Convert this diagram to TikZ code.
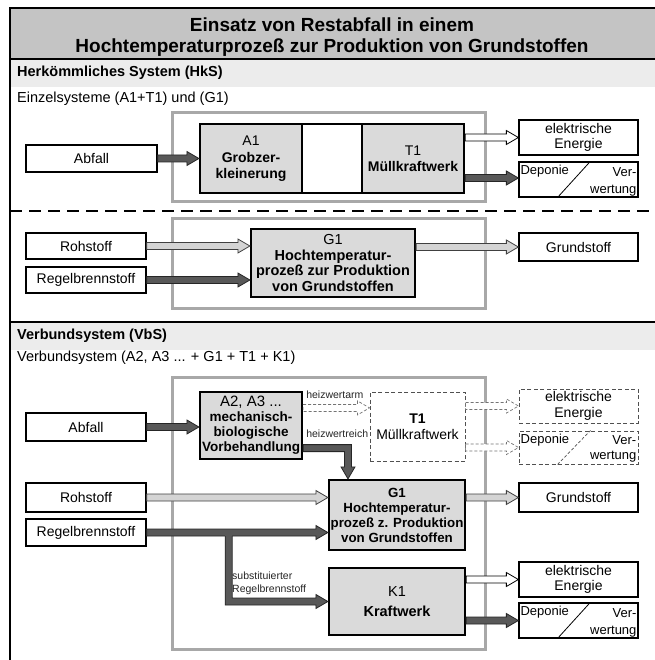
\documentclass[tikz,border=0pt]{standalone}
\usepackage{fontspec}
\setmainfont{Liberation Sans}
\usetikzlibrary{calc}
\definecolor{titlegray}{HTML}{C4C4C4}
\definecolor{bandgray}{HTML}{ECECEC}
\definecolor{procgray}{HTML}{DADADA}
\definecolor{framegray}{HTML}{A8A8A8}
\definecolor{arrdark}{HTML}{585858}
\definecolor{arrlight}{HTML}{D4D4D4}
\definecolor{dashgray}{HTML}{505050}
\newcommand\myfs[2]{\fontsize{#1pt}{#2pt}\selectfont}
% horizontal fat arrow: #1 style, #2 start, #3 end (y taken from start)
\newcommand\fatarr[3]{%
  \draw[#1] let \p1=#2, \p2=#3 in
    (\x1,\y1+3.5pt) -- (\x2-12pt,\y1+3.5pt) -- (\x2-12pt,\y1+7pt) -- (\x2,\y1)
    -- (\x2-12pt,\y1-7pt) -- (\x2-12pt,\y1-3.5pt) -- (\x1,\y1-3.5pt) -- cycle;}
\begin{document}
\begin{tikzpicture}[x=1pt,y=-1pt, line join=miter,
  inbox/.style={draw, line width=1.3pt, fill=white, inner sep=0pt, align=center, font=\myfs{14}{15.5}},
  proc/.style={draw, line width=2.2pt, fill=procgray, inner sep=0pt, align=center, font=\myfs{14}{16}},
  dbox/.style={draw=dashgray, dash pattern=on 4pt off 2.5pt, line width=1pt, fill=white, inner sep=0pt, align=center, font=\myfs{14}{15.5}},
  grframe/.style={draw=framegray, line width=3pt},
  dkarr/.style={fill=arrdark, draw=black!85, line width=0.8pt},
  wharr/.style={fill=white, draw=black, line width=0.8pt},
  ltarr/.style={fill=arrlight, draw=black!75, line width=0.8pt},
  dsarr/.style={fill=white, draw=dashgray!80, dash pattern=on 3pt off 2pt, line width=0.7pt},
  small/.style={font=\myfs{10.5}{12.5}, inner sep=0pt, align=left, text=black!85},
  depotxt/.style={font=\myfs{13}{14}, inner sep=0pt}]
\useasboundingbox (0,0) rectangle (654,660);
\fill[white] (0,0) rectangle (654,660);
% bands
\fill[titlegray] (10,8) rectangle (662,59);
\fill[bandgray] (10,59) rectangle (662,87);
\fill[bandgray] (10,322) rectangle (662,350);
\draw[line width=2pt] (662,8) -- (10,8) -- (10,665);
\draw[line width=2pt] (10,59) -- (662,59);
\draw[line width=2pt] (10,322) -- (662,322);
\draw[line width=2pt, dash pattern=on 12pt off 7pt] (10,211) -- (662,211);
% texts
\node[font=\bfseries\myfs{19}{20.5}, align=center, inner sep=0pt] (title) at (332,37)
  {Einsatz von Restabfall in einem\\Hochtemperaturprozeß zur Produktion von Grundstoffen};
\node[anchor=west, font=\bfseries\myfs{14.5}{16}, inner sep=0pt] (hks) at (17,73) {Herkömmliches System (HkS)};
\node[anchor=west, font=\myfs{14.5}{16}, inner sep=0pt] (ez) at (17,99) {Einzelsysteme (A1+T1) und (G1)};
\node[anchor=west, font=\bfseries\myfs{14.5}{16}, inner sep=0pt] (vbs) at (17,336) {Verbundsystem (VbS)};
\node[anchor=west, font=\myfs{14.5}{16}, inner sep=0pt] (vz) at (17,358) {Verbundsystem (A2, A3 ... + G1 + T1 + K1)};

% ---------- Row 1 ----------
\draw[grframe] (172,113) rectangle (485,202);
\node[proc, minimum width=102pt, minimum height=69pt] (a1) at (251,158.5)
  {A1\\[1pt]\textbf{Grobzer-}\\\textbf{kleinerung}};
\node[proc, fill=white, minimum width=60pt, minimum height=69pt] (mid) at (332,158.5) {};
\node[proc, minimum width=102pt, minimum height=69pt] (t1) at (413,158.5)
  {T1\\\textbf{Müllkraftwerk}};
\node[inbox, minimum width=131pt, minimum height=27pt] (abf1) at (91.5,158.5) {Abfall};
\node[inbox, minimum width=119pt, minimum height=35pt] (e1) at (578.5,137.5) {elektrische\\Energie};
\node[inbox, minimum width=119pt, minimum height=35pt] (d1) at (578.5,179.5) {};
\draw[line width=0.8pt] ($(d1.south west)+(39,0)$) -- ($(d1.north west)+(72,0)$);
\node[depotxt, anchor=west] (d1a) at ($(d1.north west)+(2,10)$) {Deponie};
\node[depotxt, anchor=east] (d1b) at ($(d1.north east)+(-2,11)$) {Ver-};
\node[depotxt, anchor=east] (d1c) at ($(d1.south east)+(-2,-7.5)$) {wertung};
\fatarr{dkarr}{(abf1.east)}{(a1.west)}
\fatarr{wharr}{(t1.east |- e1.west)}{(e1.west)}
\fatarr{dkarr}{($(t1.east |- d1.west)+(0,-1.5)$)}{(d1.west)}

% ---------- Row 2 ----------
\draw[grframe] (172,218) rectangle (485,308);
\node[proc, minimum width=164pt, minimum height=68pt, font=\myfs{14.5}{15.7}] (g1) at (333,263)
  {G1\\\textbf{Hochtemperatur-}\\\textbf{prozeß zur Produktion}\\\textbf{von Grundstoffen}};
\node[inbox, minimum width=120pt, minimum height=26pt] (roh1) at (86,246) {Rohstoff};
\node[inbox, minimum width=120pt, minimum height=26pt] (reg1) at (86,280) {Regelbrennstoff};
\node[inbox, minimum width=119pt, minimum height=28pt] (gs1) at (578.5,247) {Grundstoff};
\fatarr{ltarr}{(roh1.east)}{(g1.west)}
\fatarr{dkarr}{(reg1.east)}{(g1.west)}
\fatarr{ltarr}{(g1.east |- gs1.west)}{(gs1.west)}

% ---------- VbS ----------
\draw[grframe] (172,377) rectangle (485,649);
\node[proc, minimum width=102pt, minimum height=67pt, font=\myfs{13.5}{15}] (a2) at (251,425.5)
  {{\myfs{15}{16}A2, A3 ...}\\\textbf{mechanisch-}\\\textbf{biologische}\\\textbf{Vorbehandlung}};
\node[inbox, minimum width=120pt, minimum height=28pt] (abf2) at (86,427) {Abfall};
\node[dbox, minimum width=95pt, minimum height=69pt] (t1d) at (417.5,426.5)
  {\textbf{T1}\\[1pt]Müllkraftwerk};
\node[dbox, minimum width=119pt, minimum height=34pt] (e2) at (578.5,406) {elektrische\\Energie};
\node[dbox, minimum width=119pt, minimum height=33pt] (d2) at (578.5,447.5) {};
\draw[draw=dashgray, dash pattern=on 3pt off 2pt, line width=0.7pt] ($(d2.south west)+(39,0)$) -- ($(d2.north west)+(72,0)$);
\node[depotxt, anchor=west] (d2a) at ($(d2.north west)+(2,9.5)$) {Deponie};
\node[depotxt, anchor=east] (d2b) at ($(d2.north east)+(-2,10)$) {Ver-};
\node[depotxt, anchor=east] (d2c) at ($(d2.south east)+(-2,-7.5)$) {wertung};

\node[proc, minimum width=136pt, minimum height=70pt, font=\myfs{13.3}{15}] (g2) at (397,515)
  {\textbf{G1}\\\textbf{Hochtemperatur-}\\\textbf{prozeß z. Produktion}\\\textbf{von Grundstoffen}};
\node[inbox, minimum width=120pt, minimum height=29pt] (roh2) at (86,497.5) {Rohstoff};
\node[inbox, minimum width=119pt, minimum height=29pt] (gs2) at (578.5,497.5) {Grundstoff};
\node[inbox, minimum width=120pt, minimum height=27pt] (reg2) at (86,532.5) {Regelbrennstoff};
\node[proc, minimum width=136pt, minimum height=67pt, font=\myfs{14.5}{20}] (k1) at (397,601.5)
  {K1\\\textbf{Kraftwerk}};
\node[inbox, minimum width=119pt, minimum height=35pt] (e3) at (578.5,579.5) {elektrische\\Energie};
\node[inbox, minimum width=119pt, minimum height=35pt] (d3) at (578.5,620.5) {};
\draw[line width=0.8pt] ($(d3.south west)+(39,0)$) -- ($(d3.north west)+(72,0)$);
\node[depotxt, anchor=west] (d3a) at ($(d3.north west)+(2,10)$) {Deponie};
\node[depotxt, anchor=east] (d3b) at ($(d3.north east)+(-2,11)$) {Ver-};
\node[depotxt, anchor=east] (d3c) at ($(d3.south east)+(-2,-7.5)$) {wertung};

% labels
\node[small, anchor=west] (lha) at ($(a2.north east)+(3,4)$) {heizwertarm};
\node[small, anchor=west] (lhr) at ($(a2.north east)+(3,43)$) {heizwertreich};
\node[small, anchor=north west] (lsr) at (232,572) {substituierter\\Regelbrennstoff};

% arrows VbS
\fatarr{dkarr}{(abf2.east)}{(a2.west)}
\coordinate (has) at ($(a2.north east)+(0,17)$);
\fatarr{dsarr}{(has)}{(t1d.west)}
\fatarr{dsarr}{(t1d.east |- e2.west)}{(e2.west)}
\fatarr{dsarr}{(t1d.east |- d2.west)}{(d2.west)}
% heizwertreich bent arrow
\coordinate (hrs) at ($(a2.south east)+(0,-12)$);
\draw[dkarr] let \p1=(hrs), \p2=($(g2.north)+(-49,0)$) in
  (\x1,\y1+3.5pt) -- (\x2+3.5pt,\y1+3.5pt) -- (\x2+3.5pt,\y2+12pt) -- (\x2+7pt,\y2+12pt)
  -- (\x2,\y2) -- (\x2-7pt,\y2+12pt) -- (\x2-3.5pt,\y2+12pt) -- (\x2-3.5pt,\y1-3.5pt)
  -- (\x1,\y1-3.5pt) -- cycle;
\fatarr{ltarr}{(roh2.east)}{(g2.west)}
\fatarr{ltarr}{(g2.east |- gs2.west)}{(gs2.west)}
\fatarr{dkarr}{(reg2.east)}{(g2.west)}
% branch to K1
\coordinate (rb) at ($(reg2.east)+(82,0)$);
\fill[arrdark] let \p1=(rb), \p2=(k1.west) in
  (\x1-3.5pt,\y1) -- (\x1-3.5pt,\y2-3.5pt) -- (\x2-12pt,\y2-3.5pt) -- (\x2-12pt,\y2-7pt)
  -- (\x2,\y2) -- (\x2-12pt,\y2+7pt) -- (\x2-12pt,\y2+3.5pt) -- (\x1+3.5pt,\y2+3.5pt)
  -- (\x1+3.5pt,\y1) -- cycle;
\draw[draw=black!85, line width=0.8pt] let \p1=(rb), \p2=(k1.west) in
  (\x1-3.5pt,\y1-3.5pt) -- (\x1-3.5pt,\y2-3.5pt) -- (\x2-12pt,\y2-3.5pt) -- (\x2-12pt,\y2-7pt)
  -- (\x2,\y2) -- (\x2-12pt,\y2+7pt) -- (\x2-12pt,\y2+3.5pt) -- (\x1+3.5pt,\y2+3.5pt)
  -- (\x1+3.5pt,\y1-3.5pt);
\fatarr{wharr}{(k1.east |- e3.west)}{(e3.west)}
\fatarr{dkarr}{(k1.east |- d3.west)}{(d3.west)}
\end{tikzpicture}
\end{document}
